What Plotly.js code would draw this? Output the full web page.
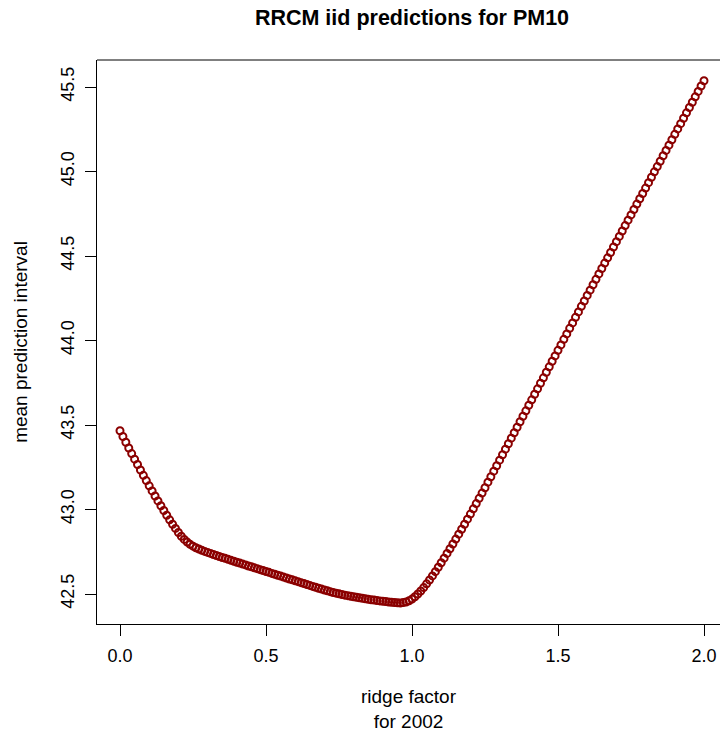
<!DOCTYPE html>
<html>
<head>
<meta charset="utf-8">
<script src="https://cdn.plot.ly/plotly-3.0.1.min.js"></script>
<style>html,body{margin:0;padding:0;background:#fff;}#chart{width:720px;height:735px;}</style>
</head>
<body>
<div id="chart"></div>
<script>
// ridge factor values (x)
var ridgeFactor = [
0.00,0.01,0.02,0.03,0.04,0.05,0.06,0.07,0.08,0.09,
0.10,0.11,0.12,0.13,0.14,0.15,0.16,0.17,0.18,0.19,
0.20,0.21,0.22,0.23,0.24,0.25,0.26,0.27,0.28,0.29,
0.30,0.31,0.32,0.33,0.34,0.35,0.36,0.37,0.38,0.39,
0.40,0.41,0.42,0.43,0.44,0.45,0.46,0.47,0.48,0.49,
0.50,0.51,0.52,0.53,0.54,0.55,0.56,0.57,0.58,0.59,
0.60,0.61,0.62,0.63,0.64,0.65,0.66,0.67,0.68,0.69,
0.70,0.71,0.72,0.73,0.74,0.75,0.76,0.77,0.78,0.79,
0.80,0.81,0.82,0.83,0.84,0.85,0.86,0.87,0.88,0.89,
0.90,0.91,0.92,0.93,0.94,0.95,0.96,0.97,0.98,0.99,
1.00,1.01,1.02,1.03,1.04,1.05,1.06,1.07,1.08,1.09,
1.10,1.11,1.12,1.13,1.14,1.15,1.16,1.17,1.18,1.19,
1.20,1.21,1.22,1.23,1.24,1.25,1.26,1.27,1.28,1.29,
1.30,1.31,1.32,1.33,1.34,1.35,1.36,1.37,1.38,1.39,
1.40,1.41,1.42,1.43,1.44,1.45,1.46,1.47,1.48,1.49,
1.50,1.51,1.52,1.53,1.54,1.55,1.56,1.57,1.58,1.59,
1.60,1.61,1.62,1.63,1.64,1.65,1.66,1.67,1.68,1.69,
1.70,1.71,1.72,1.73,1.74,1.75,1.76,1.77,1.78,1.79,
1.80,1.81,1.82,1.83,1.84,1.85,1.86,1.87,1.88,1.89,
1.90,1.91,1.92,1.93,1.94,1.95,1.96,1.97,1.98,1.99,
2.00
];

// mean prediction interval (y)
var meanPredInterval = [
43.466,43.432,43.398,43.364,43.331,43.298,43.266,43.234,43.202,43.171,
43.140,43.110,43.080,43.051,43.022,42.994,42.966,42.939,42.913,42.888,
42.864,42.842,42.823,42.807,42.794,42.783,42.774,42.766,42.759,42.752,
42.746,42.740,42.734,42.728,42.722,42.716,42.711,42.705,42.699,42.694,
42.688,42.683,42.677,42.672,42.666,42.661,42.655,42.650,42.644,42.639,
42.633,42.628,42.622,42.617,42.611,42.606,42.600,42.595,42.589,42.584,
42.578,42.573,42.567,42.562,42.556,42.551,42.545,42.540,42.534,42.529,
42.524,42.519,42.514,42.509,42.505,42.501,42.497,42.493,42.490,42.487,
42.484,42.481,42.478,42.475,42.472,42.469,42.466,42.464,42.461,42.459,
42.457,42.455,42.453,42.451,42.450,42.448,42.447,42.449,42.453,42.460,
42.470,42.484,42.500,42.518,42.538,42.560,42.583,42.607,42.632,42.658,
42.685,42.712,42.740,42.768,42.796,42.825,42.854,42.883,42.913,42.943,
42.973,43.004,43.035,43.066,43.097,43.129,43.162,43.194,43.227,43.259,
43.292,43.324,43.357,43.389,43.422,43.454,43.487,43.519,43.552,43.584,
43.617,43.649,43.682,43.714,43.747,43.779,43.812,43.844,43.877,43.909,
43.942,43.974,44.007,44.039,44.072,44.104,44.137,44.169,44.202,44.234,
44.267,44.298,44.330,44.362,44.394,44.426,44.458,44.489,44.521,44.553,
44.585,44.616,44.648,44.680,44.712,44.743,44.775,44.807,44.839,44.870,
44.902,44.934,44.966,44.998,45.029,45.061,45.093,45.125,45.156,45.188,
45.220,45.252,45.283,45.315,45.347,45.379,45.410,45.442,45.474,45.506,
45.537
];

var xTickVals = [0, 0.5, 1, 1.5, 2];
var xTickText = ["0.0", "0.5", "1.0", "1.5", "2.0"];
var yTickVals = [42.5, 43.0, 43.5, 44.0, 44.5, 45.0, 45.5];
var yTickText = ["42.5", "43.0", "43.5", "44.0", "44.5", "45.0", "45.5"];

var FONT = "Liberation Sans, Arial, Helvetica, sans-serif";

var trace = {
  x: ridgeFactor,
  y: meanPredInterval,
  type: "scatter",
  mode: "markers",
  marker: {
    symbol: "circle-open",
    size: 7,
    color: "#8B0000",
    line: {color: "#8B0000", width: 2}
  },
  hoverinfo: "x+y"
};

var layout = {
  width: 720,
  height: 735,
  margin: {l: 97, r: 0, t: 60, b: 111, pad: 0},
  paper_bgcolor: "#ffffff",
  plot_bgcolor: "#ffffff",
  showlegend: false,
  font: {family: FONT, size: 18, color: "#000000"},
  title: {
    text: "<b>RRCM iid predictions for PM10</b>",
    font: {family: FONT, size: 21.5, color: "#000000"},
    xref: "paper", x: 0.5056, xanchor: "center",
    yref: "container", y: 1 - 17/735, yanchor: "middle"
  },
  xaxis: {
    range: [-0.07877, 2.05479],
    showgrid: false, zeroline: false,
    showline: true, linecolor: "#000000", linewidth: 1,
    ticks: "outside", ticklen: 11, tickwidth: 1, tickcolor: "#000000",
    tickvals: xTickVals, ticktext: xTickText,
    tickfont: {family: FONT, size: 18, color: "#000000"},
    ticklabelstandoff: 4,
    title: {text: "ridge factor<br>for 2002", font: {family: FONT, size: 19, color: "#000000"}, standoff: 25},
    automargin: false
  },
  yaxis: {
    range: [42.3225, 45.6598],
    showgrid: false, zeroline: false,
    showline: true, linecolor: "#000000", linewidth: 1,
    ticks: "outside", ticklen: 11, tickwidth: 1, tickcolor: "#000000",
    tickvals: yTickVals, ticktext: yTickText,
    tickangle: -90,
    tickfont: {family: FONT, size: 18, color: "#000000"},
    ticklabelstandoff: 4,
    title: {text: "mean prediction interval", font: {family: FONT, size: 19, color: "#000000"}, standoff: 25},
    automargin: false
  },
  shapes: [
    {type: "line", xref: "paper", yref: "paper", x0: 0, x1: 1, y0: 1, y1: 1,
     line: {color: "#000000", width: 1}}
  ]
};

Plotly.newPlot("chart", [trace], layout, {displayModeBar: false, staticPlot: true});
</script>
</body>
</html>
